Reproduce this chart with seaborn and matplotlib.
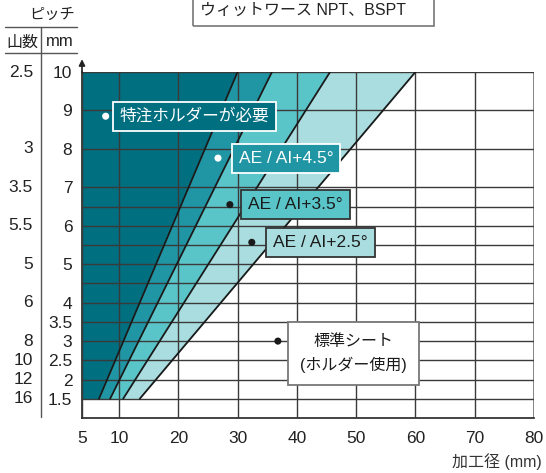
import matplotlib
matplotlib.use("Agg")
import matplotlib.pyplot as plt
import matplotlib.transforms as mtrans
from matplotlib.lines import Line2D
from matplotlib.patches import Rectangle
import numpy as np
import pandas as pd
import seaborn as sns

# pitch range covered by the bands (mm)
band_pitch = [1.5, 10.0]
# band boundary lines: diameter at pitch 1.5 and at pitch 10
bound_low = [7.3, 8.8, 10.7, 13.5]
bound_high = [30.0, 35.8, 45.6, 60.0]
band_colors = ["#006f80", "#2096a5", "#5ac5c9", "#a9dde0"]

x_ticks = [5, 10, 20, 30, 40, 50, 60, 70, 80]
mm_grid = [1.5, 2, 2.5, 3, 3.5, 4, 4.5, 5, 5.5, 6, 6.5, 7, 8, 9, 10]
mm_labels = ["1.5", "2", "2.5", "3", "3.5", "4", "", "5", "", "6", "", "7", "8", "9", "10"]
tpi_rows = [10, 8, 7, 6, 5, 4, 3, 2.5, 2, 1.5]
tpi_labels = ["2.5", "3", "3.5", "5.5", "5", "6", "8", "10", "12", "16"]

ann_text = ["特注ホルダーが必要", "AE / AI+4.5°", "AE / AI+3.5°", "AE / AI+2.5°", "標準シート\n(ホルダー使用)"]
ann_size = [12, 12.5, 12.5, 12.5, 11.5]
ann_dot_x = [8.2, 26.7, 28.7, 32.4, 36.8]
ann_dot_y = [8.85, 7.76, 6.55, 5.57, 3.0]
ann_text_x = [10.1, 30.2, 31.8, 36.0, 49.6]
ann_text_y = [8.85, 7.76, 6.55, 5.57, 2.68]

W, H = 546, 473


def px(x):
    return x / W


def py(y):
    return 1 - y / H


def fwd(x):
    x = np.asarray(x, float)
    return np.where(x < 10, (x - 10) * 37 / 5, (x - 10) * 415 / 70)


def inv(v):
    v = np.asarray(v, float)
    return np.where(v < 0, 10 + v * 5 / 37, 10 + v * 70 / 415)


sns.set_theme(style="white")
plt.rcParams["font.family"] = ["Liberation Sans", "Noto Sans CJK JP", "DejaVu Sans"]

fig = plt.figure(figsize=(W / 100, H / 100), dpi=100)
ax = fig.add_axes([px(82), 55 / H, 452 / W, 346 / H])
ax.set_xscale("function", functions=(fwd, inv))

# bands
edges = [[5, 5]] + [[lo, hi] for lo, hi in zip(bound_low, bound_high)]
for i, col in enumerate(band_colors):
    ax.fill_betweenx(band_pitch, edges[i], edges[i + 1], color=col, lw=0, zorder=1)

lines_df = pd.DataFrame({
    "x": [v for pair in zip(bound_low, bound_high) for v in pair],
    "y": band_pitch * len(bound_low),
    "b": np.repeat(range(len(bound_low)), 2),
})
sns.lineplot(data=lines_df, x="x", y="y", units="b", estimator=None, sort=False,
             color="#1a1a1a", lw=1.3, ax=ax, zorder=2.6)

ax.set_xlim(5, 80)
ax.set_ylim(1.0, 10)
ax.set_xticks(x_ticks)
ax.set_xticklabels([str(t) for t in x_ticks], fontsize=12.5)
ax.set_yticks(mm_grid)
ax.set_yticklabels(mm_labels, fontsize=12.5)
ax.tick_params(axis="both", length=0, colors="#222222")
ax.tick_params(axis="x", pad=9)
ax.tick_params(axis="y", pad=7)
ax.grid(True, color="#3a3a3a", lw=1.0)
ax.set_axisbelow(False)
for s in ["top", "right"]:
    ax.spines[s].set_visible(False)
for s in ["left", "bottom"]:
    ax.spines[s].set_color("#222222")
    ax.spines[s].set_linewidth(1.2)
ax.axvline(80, color="#999999", lw=1.4, zorder=2.5)
ax.annotate("", xy=(0, 1.045), xytext=(0, 0.99), xycoords="axes fraction",
            arrowprops=dict(arrowstyle="-|>", color="#222222", lw=1.2, mutation_scale=9),
            annotation_clip=False)

# label boxes
box_face = [band_colors[0], band_colors[1], band_colors[2], band_colors[3], "white"]
box_edge = ["white", "white", "#333333", "#333333", "#777777"]
txt_col = ["white", "white", "#1a1a1a", "#1a1a1a", "#1a1a1a"]
dot_col = ["white", "white", "#1a1a1a", "#1a1a1a", "#1a1a1a"]
for i, t in enumerate(ann_text):
    last = i == len(ann_text) - 1
    ax.text(ann_text_x[i], ann_text_y[i], t, fontsize=ann_size[i], color=txt_col[i],
            ha="center" if last else "left", va="center", linespacing=1.6,
            zorder=4,
            bbox=dict(boxstyle="square,pad=0.75" if last else "square,pad=0.4",
                      fc=box_face[i], ec=box_edge[i], lw=1.3))
dots = pd.DataFrame({"x": ann_dot_x, "y": ann_dot_y, "c": dot_col})
sns.scatterplot(data=dots, x="x", y="y", hue="c", palette={"white": "white", "#1a1a1a": "#1a1a1a"},
                s=26, edgecolor="none", legend=False, ax=ax, zorder=5)
ax.set_xlabel("")
ax.set_ylabel("")

# threads-per-inch column
tr = mtrans.blended_transform_factory(fig.transFigure, ax.transData)
for r, lab in zip(tpi_rows, tpi_labels):
    ax.text(px(33), r, lab, transform=tr, ha="right", va="center", fontsize=12.5, color="#222222")

# header of the left columns
fig.text(px(52), py(15), "ピッチ", ha="center", va="center", fontsize=11, color="#222222")
fig.text(px(22), py(42), "山数", ha="center", va="center", fontsize=11.5, color="#222222")
fig.text(px(60), py(42), "mm", ha="center", va="center", fontsize=12, color="#222222")
for yy in [27, 53]:
    fig.add_artist(Line2D([px(5), px(77)], [py(yy), py(yy)], color="#555555", lw=1.0))
fig.add_artist(Line2D([px(41), px(41)], [py(27), py(417)], color="#555555", lw=1.0))

# title box, cut by the top edge
fig.add_artist(Rectangle((px(193), py(26)), px(434) - px(193), 0.1, transform=fig.transFigure,
                         fill=False, ec="#777777", lw=1.2))
fig.text(px(200), py(15), "ウィットワース NPT、BSPT", ha="left", va="baseline",
         fontsize=11.5, color="#222222")

fig.text(px(542), py(462), "加工径 (mm)", ha="right", va="center", fontsize=11.5, color="#333333")

fig.savefig("out.png", dpi=100)
